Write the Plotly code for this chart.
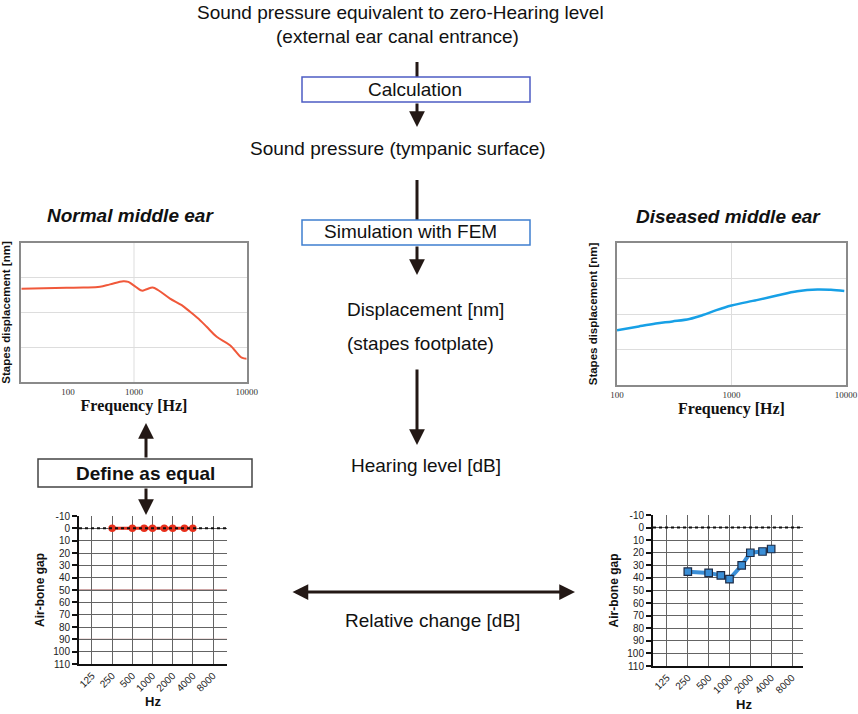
import plotly.graph_objects as go

W, H = 858, 714

# ---------------- data ----------------
normal_freq = [100, 252, 355, 499, 612, 804, 891, 986, 1170, 1295, 1464, 1644,
               2088, 2651, 3143, 3853, 4415, 5416, 7107, 9032, 10000]
normal_disp = [2.68, 2.71, 2.72, 2.74, 2.81, 2.90, 2.88, 2.79, 2.63, 2.67, 2.72, 2.64,
               2.40, 2.21, 2.02, 1.78, 1.59, 1.30, 1.06, 0.70, 0.67]

diseased_freq = [100, 155, 218, 305, 429, 562, 738, 1000, 1660, 2496, 3750, 5630, 7380, 9660]
diseased_disp = [1.54, 1.65, 1.73, 1.79, 1.86, 1.97, 2.11, 2.24, 2.39, 2.52, 2.64, 2.69, 2.68, 2.65]

fem_tickvals = [259, 1000, 10000]      # label positions as drawn in the left panel
fem_tickvals_r = [100, 1000, 10000]
fem_ticktext = ["100", "1000", "10000"]

ab_freq = [250, 500, 750, 1000, 1500, 2000, 3000, 4000]
ab_normal = [0, 0, 0, 0, 0, 0, 0, 0]
ab_diseased = [35, 36, 38, 41, 30, 20, 19, 17]

ab_tickvals = [125, 250, 500, 1000, 2000, 4000, 8000]
ab_ticktext = ["125", "250", "500", "1000", "2000", "4000", "8000"]
db_ticks = [-10, 0, 10, 20, 30, 40, 50, 60, 70, 80, 90, 100, 110]
db_ticktext = ["-10", "0", "10", "20", "30", "40", "50", "60", "70", "80", "90", "100", "110"]
red_grid_db = [50, 90]

# ---------------- helpers ----------------
def px(x):
    return x / W

def py(y):
    return 1 - y / H

SANS = "Liberation Sans"
SERIF = "Liberation Serif"
INK = "#231815"

fig = go.Figure()

fig.add_trace(go.Scatter(x=normal_freq, y=normal_disp, mode="lines",
                         line=dict(color="#f0583a", width=2, shape="spline"),
                         xaxis="x", yaxis="y"))
fig.add_trace(go.Scatter(x=diseased_freq, y=diseased_disp, mode="lines",
                         line=dict(color="#17a0e6", width=2.5, shape="spline"),
                         xaxis="x2", yaxis="y2"))
fig.add_trace(go.Scatter(x=ab_freq, y=ab_normal, mode="lines+markers",
                         line=dict(color="#e8301c", width=3),
                         marker=dict(symbol="circle", size=7.5, color="#e8301c"),
                         xaxis="x3", yaxis="y3"))
fig.add_trace(go.Scatter(x=ab_freq, y=ab_diseased, mode="lines+markers",
                         line=dict(color="#3a8ed6", width=4),
                         marker=dict(symbol="square", size=7.5, color="#3a8ed6",
                                     line=dict(color="#1d2b45", width=1.2)),
                         xaxis="x4", yaxis="y4"))

fem_x_common = dict(type="log", range=[2, 4], showline=True, mirror=True, automargin=False,
                    linecolor="#8a8a8a", linewidth=1.5, ticks="", zeroline=False,
                    ticktext=fem_ticktext,
                    tickfont=dict(family=SERIF, size=9, color="#333"),
                    title=dict(text="Frequency [Hz]", standoff=2,
                               font=dict(family=SERIF, size=16, weight="bold", color="#111")))
fem_y_common = dict(range=[0, 4], dtick=1, showticklabels=False, ticks="", automargin=False,
                    showgrid=True, gridcolor="#dddddd", gridwidth=1, zeroline=False,
                    showline=True, mirror=True, linecolor="#8a8a8a", linewidth=1.5,
                    title=dict(text="Stapes displacement [nm]",
                               font=dict(family=SANS, size=11.5, weight="bold", color="#111")))

ab_x_common = dict(type="log", tickvals=ab_tickvals, ticktext=ab_ticktext, tickangle=-45,
                   showgrid=True, gridcolor="#646464", gridwidth=1, automargin=False,
                   showline=True, linecolor="#111", linewidth=2, ticks="", zeroline=False,
                   tickfont=dict(family=SANS, size=10, color="#222"))
ab_y_common = dict(range=[110, -10], tickvals=db_ticks, ticktext=db_ticktext,
                   showgrid=True, gridcolor="#646464", automargin=False,
                   gridwidth=1, showline=True, linecolor="#111", linewidth=2,
                   ticks="outside", ticklen=5, tickwidth=1.5, tickcolor="#111", zeroline=False,
                   tickfont=dict(family=SANS, size=10, color="#222"),
                   title=dict(text="Air-bone gap", standoff=6,
                              font=dict(family=SANS, size=12, weight="bold", color="#111")))

fig.update_layout(
    width=W, height=H, margin=dict(l=0, r=0, t=0, b=0, autoexpand=False),
    paper_bgcolor="white", plot_bgcolor="white", showlegend=False,
    xaxis=dict(domain=[px(21.3), px(246.7)], anchor="y", tickvals=fem_tickvals,
               showgrid=False, **fem_x_common),
    yaxis=dict(domain=[py(382), py(243)], anchor="x", **fem_y_common),
    xaxis2=dict(domain=[px(617), px(846)], anchor="y2", tickvals=fem_tickvals_r,
                showgrid=True, gridcolor="#dddddd", **fem_x_common),
    yaxis2=dict(domain=[py(385), py(243)], anchor="x2", **fem_y_common),
    xaxis3=dict(domain=[px(79), px(227)], anchor="y3", range=[1.903, 4.112],
                title=dict(text="Hz", standoff=4,
                           font=dict(family=SANS, size=13, weight="bold", color="#111")),
                **ab_x_common),
    yaxis3=dict(domain=[py(664), py(516)], anchor="x3", **ab_y_common),
    xaxis4=dict(domain=[px(653), px(803)], anchor="y4", range=[1.895, 4.062],
                **ab_x_common),
    yaxis4=dict(domain=[py(666), py(515)], anchor="x4", **ab_y_common),
)

shapes = []
# vertical gridline at 1000 Hz in the left panel
shapes.append(dict(type="line", xref="x", yref="y domain", x0=1000, x1=1000, y0=0, y1=1,
                   line=dict(color="#dddddd", width=1), layer="below"))
# reddish grid lines in the normal audiogram
for v in red_grid_db:
    shapes.append(dict(type="line", xref="x3 domain", yref="y3", x0=0, x1=1, y0=v, y1=v,
                       line=dict(color="#9a4a4a", width=1), layer="below"))
# dotted 0 dB reference lines
for xr, yr in (("x3", "y3"), ("x4", "y4")):
    shapes.append(dict(type="line", xref=xr + " domain", yref=yr, x0=0, x1=1, y0=0, y1=0,
                       line=dict(color="#111", width=2, dash="dot"), layer="above"))
# flow lines above the boxes
shapes.append(dict(type="line", xref="paper", yref="paper", x0=px(417), x1=px(417),
                   y0=py(62), y1=py(77), line=dict(color=INK, width=3)))
shapes.append(dict(type="line", xref="paper", yref="paper", x0=px(417), x1=px(417),
                   y0=py(180), y1=py(220), line=dict(color=INK, width=3)))
# boxes
shapes.append(dict(type="rect", xref="paper", yref="paper", x0=px(302), x1=px(530),
                   y0=py(102), y1=py(77), line=dict(color="#4d5cc4", width=1.5),
                   fillcolor="white"))
shapes.append(dict(type="rect", xref="paper", yref="paper", x0=px(302), x1=px(530),
                   y0=py(245), y1=py(220), line=dict(color="#3f7fd0", width=1.5),
                   fillcolor="white"))
shapes.append(dict(type="rect", xref="paper", yref="paper", x0=px(38), x1=px(252),
                   y0=py(487), y1=py(459), line=dict(color="#444", width=1.5),
                   fillcolor="white"))
fig.update_layout(shapes=shapes)

ann = []

def text(x, y, s, size=19, xanchor="center", weight="normal", style="normal",
         family=SANS, color="#111"):
    ann.append(dict(x=px(x), y=py(y), xref="paper", yref="paper", text=s, showarrow=False,
                    xanchor=xanchor, yanchor="middle",
                    font=dict(family=family, size=size, weight=weight, style=style,
                              color=color)))

def arrow(x_tip, y_tip, dx, dy, both=False):
    ann.append(dict(x=px(x_tip), y=py(y_tip), xref="paper", yref="paper", text="",
                    showarrow=True, ax=dx, ay=dy, axref="pixel", ayref="pixel",
                    arrowhead=2, arrowsize=1.05, arrowwidth=3, arrowcolor=INK,
                    arrowside="end+start" if both else "end",
                    startarrowhead=2, startarrowsize=1.05, standoff=0, startstandoff=0))

text(400, 12, "Sound pressure equivalent to zero-Hearing level")
text(397, 36, "(external ear canal entrance)")
text(415, 89, "Calculation")
text(398, 148, "Sound pressure (tympanic surface)")
text(410, 232, "Simulation with FEM")
text(345, 309, "Displacement [nm]", xanchor="left")
text(345, 343, "(stapes footplate)", xanchor="left")
text(426, 465, "Hearing level [dB]")
text(433, 620, "Relative change [dB]")
text(145, 473, "Define as equal", weight="bold")
text(130, 215, "Normal middle ear", weight="bold", style="italic")
text(728, 216, "Diseased middle ear", weight="bold", style="italic")
text(744, 704, "Hz", size=13, weight="bold")

arrow(417, 127, 0, -25)
arrow(417, 275, 0, -30)
arrow(417, 445, 0, -77)
arrow(146, 423, 0, 36)
arrow(146, 515, 0, -28)
arrow(575, 592, -284, 0, both=True)

fig.update_layout(annotations=ann)

fig.write_html("out.html", config={"displayModeBar": False},
               post_script="document.body.style.margin='0';document.body.style.overflow='hidden';")
